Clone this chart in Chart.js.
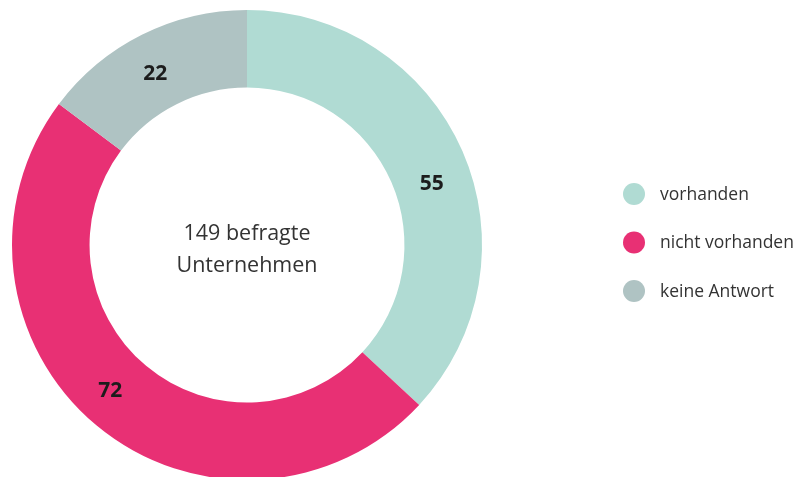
<!DOCTYPE html>
<html>
<head>
<meta charset="utf-8">
<script src="https://cdn.jsdelivr.net/npm/chart.js@4"></script>
<style>
  html, body { margin: 0; padding: 0; background: #fff; }
  #wrap { width: 795px; height: 477px; }
</style>
</head>
<body>
<div id="wrap"><canvas id="ringChart" width="795" height="477"></canvas></div>
<script>
// Daten
const labels = ['vorhanden', 'nicht vorhanden', 'keine Antwort'];
const values = [55, 72, 22];
const colors = ['#b0dbd3', '#e83074', '#afc3c3'];
const centerLines = ['149 befragte', 'Unternehmen'];

const FONT = '"Open Sans", "Noto Sans", sans-serif';
// kleine Verschiebung der Zahlen gegenüber der Segmentmitte
const labelNudge = [[5, 17], [-11, -5], [-4, 5]];

// Zahlen in den Segmenten, Text in der Mitte, Legende rechts
const ringExtras = {
    id: 'ringExtras',
    afterDatasetsDraw(chart) {
        const ctx = chart.ctx;
        const meta = chart.getDatasetMeta(0);
        ctx.save();
        ctx.textAlign = 'center';
        ctx.textBaseline = 'middle';
        ctx.fillStyle = '#1c1c1c';
        ctx.font = 'bold 21px ' + FONT;
        meta.data.forEach((arc, i) => {
            const p = arc.getCenterPoint();
            ctx.fillText(String(values[i]), p.x + labelNudge[i][0], p.y + labelNudge[i][1]);
        });

        const first = meta.data[0];
        ctx.fillStyle = '#333333';
        ctx.font = '21.5px ' + FONT;
        ctx.fillText(centerLines[0], first.x, first.y - 11);
        ctx.fillText(centerLines[1], first.x, first.y + 21);

        // Legende
        ctx.textAlign = 'left';
        ctx.font = '17.5px ' + FONT;
        labels.forEach((lab, i) => {
            const y = 194 + i * 48.5;
            ctx.beginPath();
            ctx.fillStyle = colors[i];
            ctx.arc(634, y, 11, 0, Math.PI * 2);
            ctx.fill();
            ctx.fillStyle = '#333333';
            ctx.fillText(lab, 660, y + 1);
        });
        ctx.restore();
    }
};

const ctx = document.getElementById('ringChart').getContext('2d');
new Chart(ctx, {
    type: 'doughnut',
    data: {
        labels: labels,
        datasets: [{
            data: values,
            backgroundColor: colors,
            borderWidth: 0,
            radius: 235,
            cutout: '67%'
        }]
    },
    options: {
        responsive: false,
        animation: false,
        layout: { padding: { left: 12, right: 313, top: 13, bottom: 0 } },
        plugins: {
            legend: { display: false },
            tooltip: { enabled: false }
        }
    },
    plugins: [ringExtras]
});
</script>
</body>
</html>
